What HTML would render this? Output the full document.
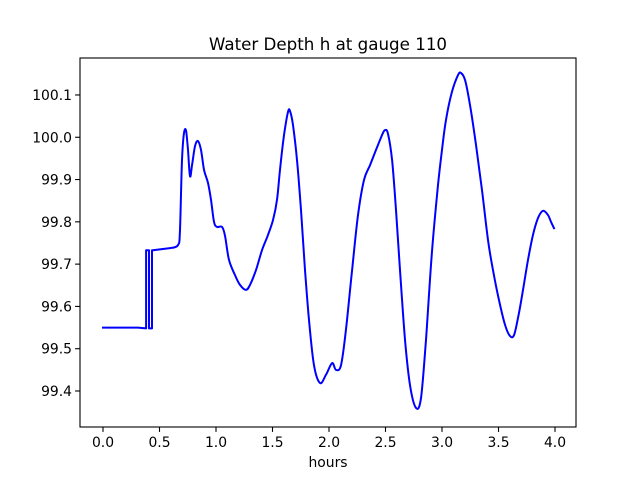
<!DOCTYPE html>
<html><head><meta charset="utf-8"><style>
body{margin:0;background:#fff;font-family:"DejaVu Sans","Liberation Sans",sans-serif}
</style></head><body>
<svg id="chart" width="640" height="480" xmlns="http://www.w3.org/2000/svg" font-family="DejaVu Sans, Liberation Sans, sans-serif">
<rect width="640" height="480" fill="#fff"/>
<text x="328" y="50" font-size="16.7" text-anchor="middle">Water Depth h at gauge 110</text>
<g id="axes"></g>
<text x="328" y="467" font-size="13.9" text-anchor="middle">hours</text>
</svg>
<script>
const hours=[0,0.310,0.381,0.381,0.389,0.407,0.407,0.416,0.434,0.434,0.442,0.593,0.664,0.681,0.699,0.717,0.735,0.752,0.770,0.788,0.814,0.841,0.867,0.894,0.929,0.956,0.982,1.009,1.053,1.080,1.115,1.168,1.212,1.265,1.301,1.354,1.407,1.460,1.504,1.540,1.566,1.602,1.637,1.655,1.681,1.717,1.752,1.788,1.823,1.867,1.920,1.973,2.027,2.062,2.106,2.150,2.204,2.257,2.310,2.363,2.416,2.469,2.496,2.522,2.558,2.593,2.628,2.673,2.717,2.770,2.814,2.858,2.912,2.965,3.000,3.035,3.088,3.142,3.168,3.204,3.248,3.301,3.354,3.407,3.451,3.504,3.558,3.602,3.637,3.673,3.717,3.761,3.805,3.850,3.894,3.938,3.965,3.991];
const depth=[99.55,99.55,99.548,99.733,99.733,99.733,99.548,99.548,99.548,99.733,99.733,99.738,99.745,99.781,99.946,100.010,100.015,99.970,99.908,99.934,99.979,99.991,99.970,99.923,99.892,99.852,99.800,99.788,99.788,99.767,99.710,99.674,99.651,99.639,99.651,99.686,99.733,99.769,99.804,99.852,99.923,100.005,100.060,100.062,100.029,99.946,99.828,99.686,99.568,99.461,99.419,99.438,99.466,99.450,99.461,99.544,99.686,99.816,99.899,99.934,99.970,100.005,100.017,100.008,99.946,99.828,99.686,99.521,99.414,99.360,99.383,99.521,99.733,99.887,99.970,100.041,100.107,100.147,100.152,100.135,100.076,99.982,99.875,99.757,99.686,99.615,99.556,99.530,99.532,99.573,99.639,99.710,99.769,99.809,99.826,99.816,99.800,99.785];
const xTicks=[0,0.5,1,1.5,2,2.5,3,3.5,4];
const xTickLabels=["0.0","0.5","1.0","1.5","2.0","2.5","3.0","3.5","4.0"];
const yTicks=[99.4,99.5,99.6,99.7,99.8,99.9,100.0,100.1];
const yTickLabels=["99.4","99.5","99.6","99.7","99.8","99.9","100.0","100.1"];
const L=80,R=576,T=58,B=427;
const xs=t=>103+t*113;
const ys=v=>391-(v-99.4)*422.9;
const NS="http://www.w3.org/2000/svg";
const g=document.getElementById('axes');
function mk(tag,attrs){const e=document.createElementNS(NS,tag);for(const k in attrs)e.setAttribute(k,attrs[k]);g.appendChild(e);return e;}
const P=hours.map((t,i)=>[xs(t),ys(depth[i])]);
const SMOOTH_FROM=11;
let d='M'+P[0][0].toFixed(1)+' '+P[0][1].toFixed(1);
for(let i=1;i<P.length;i++){
  if(i<=SMOOTH_FROM){d+='L'+P[i][0].toFixed(1)+' '+P[i][1].toFixed(1);continue;}
  const p0=P[Math.max(i-2,SMOOTH_FROM)],p1=P[i-1],p2=P[i],p3=P[Math.min(i+1,P.length-1)];
  const c1=[p1[0]+(p2[0]-p0[0])/6,p1[1]+(p2[1]-p0[1])/6];
  const c2=[p2[0]-(p3[0]-p1[0])/6,p2[1]-(p3[1]-p1[1])/6];
  d+='C'+c1[0].toFixed(1)+' '+c1[1].toFixed(1)+' '+c2[0].toFixed(1)+' '+c2[1].toFixed(1)+' '+p2[0].toFixed(1)+' '+p2[1].toFixed(1);
}
const line=mk('path',{d:d,fill:'none',stroke:'#0000ff','stroke-width':2,'stroke-linejoin':'round','stroke-linecap':'square'});


const frame=mk('rect',{x:L,y:T,width:R-L,height:B-T,fill:'none',stroke:'#000','stroke-width':1.1});


xTicks.forEach((t,i)=>{
  const x=xs(t);
  const tk=mk('line',{x1:x,x2:x,y1:B,y2:B+4.9,stroke:'#000','stroke-width':1.1});
  
  
  const tx=mk('text',{x:x,y:B+20,'font-size':13.9,'text-anchor':'middle'});
  tx.textContent=xTickLabels[i];
  
  
});
yTicks.forEach((v,i)=>{
  const y=ys(v);
  const tk=mk('line',{x1:L-4.9,x2:L,y1:y,y2:y,stroke:'#000','stroke-width':1.1});
  
  
  const tx=mk('text',{x:L-8,y:y+5,'font-size':13.9,'text-anchor':'end'});
  tx.textContent=yTickLabels[i];
  
  
});
</script>
</body></html>
